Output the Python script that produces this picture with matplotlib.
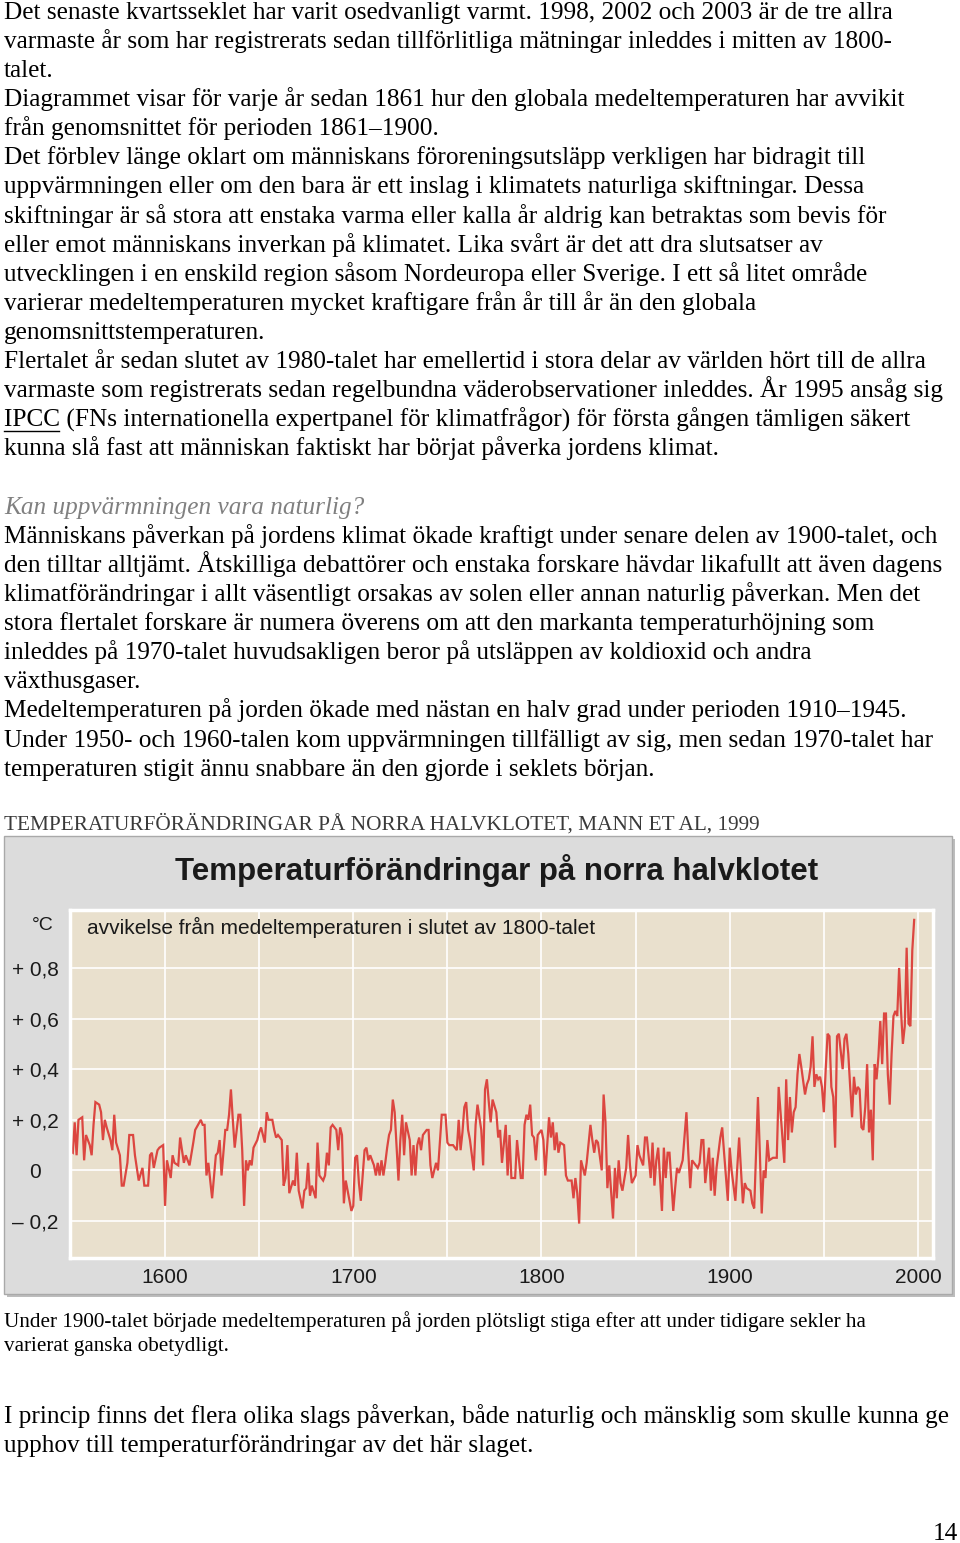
import matplotlib
matplotlib.use('Agg')
import matplotlib.pyplot as plt
from matplotlib.patches import Rectangle
from matplotlib.lines import Line2D

W, H = 960, 1543

years = [1549, 1551, 1552, 1553, 1554, 1556, 1557, 1558, 1560, 1561, 1562, 1563, 1565, 1566, 1567, 1568,
         1569, 1571, 1572, 1573, 1574, 1576, 1577, 1578, 1580, 1581, 1583, 1584, 1586, 1588, 1589, 1591,
         1592, 1593, 1594, 1596, 1597, 1599, 1600, 1601, 1603, 1604, 1605, 1607, 1608, 1610, 1611, 1613,
         1615, 1616, 1619, 1620, 1621, 1622,
         1623, 1625, 1627, 1628, 1629, 1630, 1632, 1633, 1634, 1635, 1636, 1637, 1639, 1640, 1641, 1642,
         1643, 1644, 1645, 1646, 1647, 1649, 1650, 1651, 1653, 1654, 1655, 1657, 1658, 1659, 1660, 1662,
         1663, 1664, 1665, 1666, 1668, 1669, 1670, 1671, 1673, 1674, 1675, 1676, 1677, 1678, 1680, 1681,
         1682, 1684, 1685, 1686, 1687, 1688, 1689, 1691, 1692, 1693, 1694, 1695, 1696, 1698, 1699, 1700,
         1701, 1702, 1703, 1704, 1706, 1707, 1708, 1709, 1711, 1712, 1713, 1714, 1715, 1716, 1717, 1718,
         1719, 1720, 1721, 1722, 1724, 1725, 1726, 1727, 1728, 1730, 1731, 1732, 1733, 1734, 1735, 1736,
         1737, 1739, 1740, 1741, 1742, 1744, 1745, 1746, 1747, 1749, 1750, 1751, 1753, 1755, 1756, 1757,
         1758, 1759, 1760, 1761, 1762, 1764, 1765, 1766, 1768, 1769, 1770, 1771, 1772, 1773, 1774, 1776,
         1777, 1778,
         1779, 1781, 1782, 1783, 1784, 1786, 1787, 1789, 1790, 1791, 1792, 1793, 1794, 1795, 1796, 1797,
         1798, 1800, 1801, 1802, 1804, 1805, 1806, 1807, 1808, 1809, 1810, 1812, 1813, 1814, 1816, 1817,
         1818, 1819, 1820, 1821, 1822, 1823, 1824, 1826, 1827, 1828, 1829, 1830, 1832, 1833, 1834, 1835,
         1836, 1838, 1839, 1840, 1841, 1842, 1843, 1845, 1846, 1847, 1848, 1850, 1851, 1852, 1854, 1855,
         1856, 1858, 1859, 1860, 1861, 1862, 1864, 1865, 1866, 1867, 1868, 1870, 1871, 1872, 1873, 1875,
         1877, 1878, 1879, 1880, 1881, 1883, 1884, 1885, 1886, 1887, 1889, 1890, 1891, 1892, 1893, 1895,
         1896, 1897, 1899, 1900, 1901, 1903, 1904, 1905, 1907, 1908, 1909, 1911, 1912, 1913, 1915, 1916,
         1917, 1918, 1919, 1920, 1921, 1923, 1925, 1926, 1927, 1929, 1930,
         1931, 1932, 1933, 1934, 1935, 1936, 1937, 1938, 1940, 1941, 1942, 1943, 1944, 1945, 1946, 1947,
         1948, 1949, 1950, 1951, 1952, 1953, 1954, 1955, 1956, 1957, 1958, 1960, 1961, 1962, 1963, 1964,
         1965, 1966, 1967, 1968, 1969, 1970, 1971, 1972, 1973, 1974, 1975, 1976, 1977, 1978, 1979, 1980,
         1981, 1982, 1983, 1984, 1985, 1986, 1987, 1988, 1989, 1990, 1991, 1992, 1993, 1994, 1995, 1996,
         1997, 1998]

anomaly = [0.08, 0.07, 0.19, 0.06, 0.20, 0.21, 0.04, 0.14, 0.10, 0.06, 0.18, 0.27, 0.26, 0.23, 0.12, 0.20,
           0.17, 0.12, 0.08, 0.22, 0.11, 0.06, -0.06, -0.06, 0.03, 0.14, 0.14, 0.06, -0.04, 0.01, -0.06, -0.06,
           0.06, 0.07, 0.01, 0.08, 0.09, 0.10, -0.14, 0.04, -0.03, 0.06, 0.03, 0.02, 0.13, 0.03, 0.06, 0.02,
           0.11, 0.16, 0.20, 0.18, 0.18, -0.02,
           0.03, -0.11, 0.06, 0.07, 0.12, -0.02, 0.16, 0.16, 0.22, 0.32, 0.20, 0.09, 0.22, 0.22, 0.08, -0.14,
           0.04, 0.00, 0.04, 0.02, 0.09, 0.12, 0.15, 0.17, 0.11, 0.23, 0.20, 0.20, 0.16, 0.13, 0.14, 0.12,
           -0.06, -0.03, 0.10, -0.09, -0.04, -0.06, 0.07, -0.08, -0.15, -0.08, -0.07, 0.03, -0.10, -0.06, -0.11, 0.11,
           -0.02, -0.04, -0.02, 0.07, 0.02, 0.17, 0.18, 0.16, 0.08, 0.17, 0.14, -0.13, -0.04, -0.12, -0.16, -0.14,
           0.05, 0.06, -0.05, -0.12, 0.08, 0.09, 0.04, 0.06, 0.02, -0.02, 0.03, -0.02, 0.04, -0.02, 0.03, 0.09,
           0.14, 0.16, 0.28, 0.23, -0.04, 0.12, 0.22, 0.06, 0.19, 0.12, -0.02, 0.10, -0.02, 0.10, 0.13, 0.08,
           0.14, 0.16, 0.16, 0.02, -0.03, 0.03, 0.00, 0.11, 0.22, 0.22, 0.11, 0.10, 0.10, 0.08, 0.20, 0.08,
           0.15, 0.25, 0.27, 0.16, 0.12, 0.00, 0.18, 0.26, 0.16, 0.02, 0.32, 0.36, 0.27, 0.19, 0.28, 0.23,
           0.13, 0.16,
           0.03, 0.18, -0.02, 0.14, -0.03, -0.03, 0.12, -0.03, -0.03, 0.18, 0.22, 0.20, 0.26, 0.14, 0.13, 0.04,
           0.14, 0.16, 0.12, -0.02, 0.21, 0.13, 0.19, 0.08, 0.15, 0.07, 0.11, 0.10, -0.02, -0.04, -0.04, -0.11,
           -0.03, -0.09, -0.21, 0.04, 0.01, -0.02, 0.03, 0.18, 0.12, 0.07, 0.12, 0.11, 0.00, 0.30, 0.19, -0.07,
           0.02, -0.19, 0.01, -0.11, 0.04, -0.05, -0.08, 0.01, 0.14, 0.02, -0.05, -0.02, 0.10, 0.06, 0.02, 0.13,
           0.13, -0.03, 0.11, -0.06, 0.04, 0.09, -0.16, 0.09, -0.03, 0.07, 0.07, -0.16, -0.07, 0.01, -0.01, 0.04,
           0.23, 0.07, -0.07, 0.04, 0.03, 0.01, 0.03, 0.12, 0.12, -0.05, 0.09, -0.08, 0.05, -0.10, 0.01, 0.13,
           0.17, 0.07, -0.12, 0.09, 0.00, -0.12, 0.01, 0.13, -0.13, -0.05, -0.07, -0.08, -0.13, -0.15, 0.29, 0.07,
           -0.17, 0.00, -0.03, 0.12, 0.04, 0.05, 0.05, 0.33, 0.23, 0.03, 0.36,
           0.12, 0.29, 0.15, 0.23, 0.25, 0.38, 0.46, 0.41, 0.30, 0.34, 0.36, 0.41, 0.53, 0.33, 0.38, 0.36,
           0.37, 0.33, 0.23, 0.40, 0.54, 0.53, 0.33, 0.29, 0.09, 0.53, 0.54, 0.40, 0.52, 0.54, 0.46, 0.33,
           0.21, 0.37, 0.30, 0.33, 0.32, 0.17, 0.16, 0.25, 0.42, 0.15, 0.24, 0.04, 0.42, 0.36, 0.45, 0.59,
           0.42, 0.62, 0.62, 0.38, 0.26, 0.46, 0.61, 0.63, 0.61, 0.80, 0.63, 0.50, 0.57, 0.88, 0.58, 0.57,
           0.87, 0.99]

ytick_vals = [-0.2, 0, 0.2, 0.4, 0.6, 0.8]
ytick_labels = ['– 0,2', '0', '+ 0,2', '+ 0,4', '+ 0,6', '+ 0,8']
xgrid_vals = [1600, 1650, 1700, 1750, 1800, 1850, 1900, 1950, 2000]
xtick_labels = ['1600', '', '1700', '', '1800', '', '1900', '', '2000']

chart_title = 'Temperaturförändringar på norra halvklotet'
chart_subtitle = 'avvikelse från medeltemperaturen i slutet av 1800-talet'

text_top = [
    'Det senaste kvartsseklet har varit osedvanligt varmt. 1998, 2002 och 2003 är de tre allra',
    'varmaste år som har registrerats sedan tillförlitliga mätningar inleddes i mitten av 1800-',
    'talet.',
    'Diagrammet visar för varje år sedan 1861 hur den globala medeltemperaturen har avvikit',
    'från genomsnittet för perioden 1861–1900.',
    'Det förblev länge oklart om människans föroreningsutsläpp verkligen har bidragit till',
    'uppvärmningen eller om den bara är ett inslag i klimatets naturliga skiftningar. Dessa',
    'skiftningar är så stora att enstaka varma eller kalla år aldrig kan betraktas som bevis för',
    'eller emot människans inverkan på klimatet. Lika svårt är det att dra slutsatser av',
    'utvecklingen i en enskild region såsom Nordeuropa eller Sverige. I ett så litet område',
    'varierar medeltemperaturen mycket kraftigare från år till år än den globala',
    'genomsnittstemperaturen.',
    'Flertalet år sedan slutet av 1980-talet har emellertid i stora delar av världen hört till de allra',
    'varmaste som registrerats sedan regelbundna väderobservationer inleddes. År 1995 ansåg sig',
    'IPCC (FNs internationella expertpanel för klimatfrågor) för första gången tämligen säkert',
    'kunna slå fast att människan faktiskt har börjat påverka jordens klimat.',
]
heading = 'Kan uppvärmningen vara naturlig?'
text_mid = [
    'Människans påverkan på jordens klimat ökade kraftigt under senare delen av 1900-talet, och',
    'den tilltar alltjämt. Åtskilliga debattörer och enstaka forskare hävdar likafullt att även dagens',
    'klimatförändringar i allt väsentligt orsakas av solen eller annan naturlig påverkan. Men det',
    'stora flertalet forskare är numera överens om att den markanta temperaturhöjning som',
    'inleddes på 1970-talet huvudsakligen beror på utsläppen av koldioxid och andra',
    'växthusgaser.',
    'Medeltemperaturen på jorden ökade med nästan en halv grad under perioden 1910–1945.',
    'Under 1950- och 1960-talen kom uppvärmningen tillfälligt av sig, men sedan 1970-talet har',
    'temperaturen stigit ännu snabbare än den gjorde i seklets början.',
]
fig_caption = 'TEMPERATURFÖRÄNDRINGAR PÅ NORRA HALVKLOTET, MANN ET AL, 1999'
text_caption = [
    'Under 1900-talet började medeltemperaturen på jorden plötsligt stiga efter att under tidigare sekler ha',
    'varierat ganska obetydligt.',
]
text_bottom = [
    'I princip finns det flera olika slags påverkan, både naturlig och mänsklig som skulle kunna ge',
    'upphov till temperaturförändringar av det här slaget.',
]
page_no = '14'

SERIF = ['Liberation Serif', 'DejaVu Serif']
SANS = ['Liberation Sans', 'DejaVu Sans']

BODY = 18.2


def fx(x):
    return x / W


def fy(y):
    return 1 - y / H


def put(x, yc, s, size=BODY, color='black', **kw):
    # yc is the visual middle of the line in page pixels
    fig.text(fx(x), fy(yc + 0.31 * size * 100 / 72), s, fontsize=size, color=color,
             family=kw.pop('family', SERIF), va='baseline', **kw)


fig = plt.figure(figsize=(W / 100, H / 100), dpi=100)
fig.patch.set_facecolor('white')

LH = 29.1
for i, s in enumerate(text_top):
    put(4, 11 + i * LH, s)
put(4, 506, heading, color='#808080', style='italic')
for i, s in enumerate(text_mid):
    put(4, 535 + i * LH, s)
fig.add_artist(Line2D([fx(4), fx(59)], [fy(431), fy(431)], color='black', lw=1))

put(4, 823, fig_caption, size=15.3, color='#3a3a3a')
for i, s in enumerate(text_caption):
    put(4, 1320 + i * 24, s, size=15.2)
for i, s in enumerate(text_bottom):
    put(4, 1415 + i * LH, s)
put(958, 1532, page_no, ha='right')

# chart frame
fig.add_artist(Rectangle((fx(7), fy(1297)), fx(948), 458 / H, transform=fig.transFigure,
                         fc='#bdbdbd', ec='none', zorder=-2))
fig.add_artist(Rectangle((fx(4), fy(1294)), fx(948), 458 / H, transform=fig.transFigure,
                         fc='#dcdcdc', ec='#a9a9a9', lw=1, zorder=-1))

fig.text(fx(497), fy(880), chart_title, fontsize=22.5, fontweight='bold', color='#1a1a1a',
         family=SANS, ha='center', va='baseline')
fig.text(fx(43), fy(925), '°C', fontsize=14, color='#1a1a1a', family=SANS, ha='center', va='center')

ax = fig.add_axes([fx(70), fy(1258), (933 - 70) / W, (1258 - 910) / H])
ax.set_facecolor('#e9e0cd')
ax.set_xlim(1549.5, 2008)
ax.set_ylim(-0.346, 1.029)
for sp in ax.spines.values():
    sp.set_color('white')
    sp.set_linewidth(2.5)
ax.set_yticks(ytick_vals)
ax.set_yticklabels(ytick_labels, family=SANS, fontsize=15, color='#1a1a1a')
ax.set_xticks(xgrid_vals)
ax.set_xticklabels(xtick_labels, family=SANS, fontsize=15, color='#1a1a1a')
ax.tick_params(axis='both', length=0)
ax.tick_params(axis='y', pad=25)
ax.tick_params(axis='x', pad=7)
for lab in ax.get_yticklabels():
    lab.set_ha('center')
ax.grid(True, color='white', lw=1.2)
ax.set_axisbelow(True)
ax.plot(years, anomaly, color='#dc4640', lw=1.6, solid_joinstyle='miter')
ax.text(0.02, 0.95, chart_subtitle, transform=ax.transAxes, family=SANS, fontsize=15,
        color='#1a1a1a', ha='left', va='center')

fig.savefig('out.png', dpi=100, facecolor='white')
